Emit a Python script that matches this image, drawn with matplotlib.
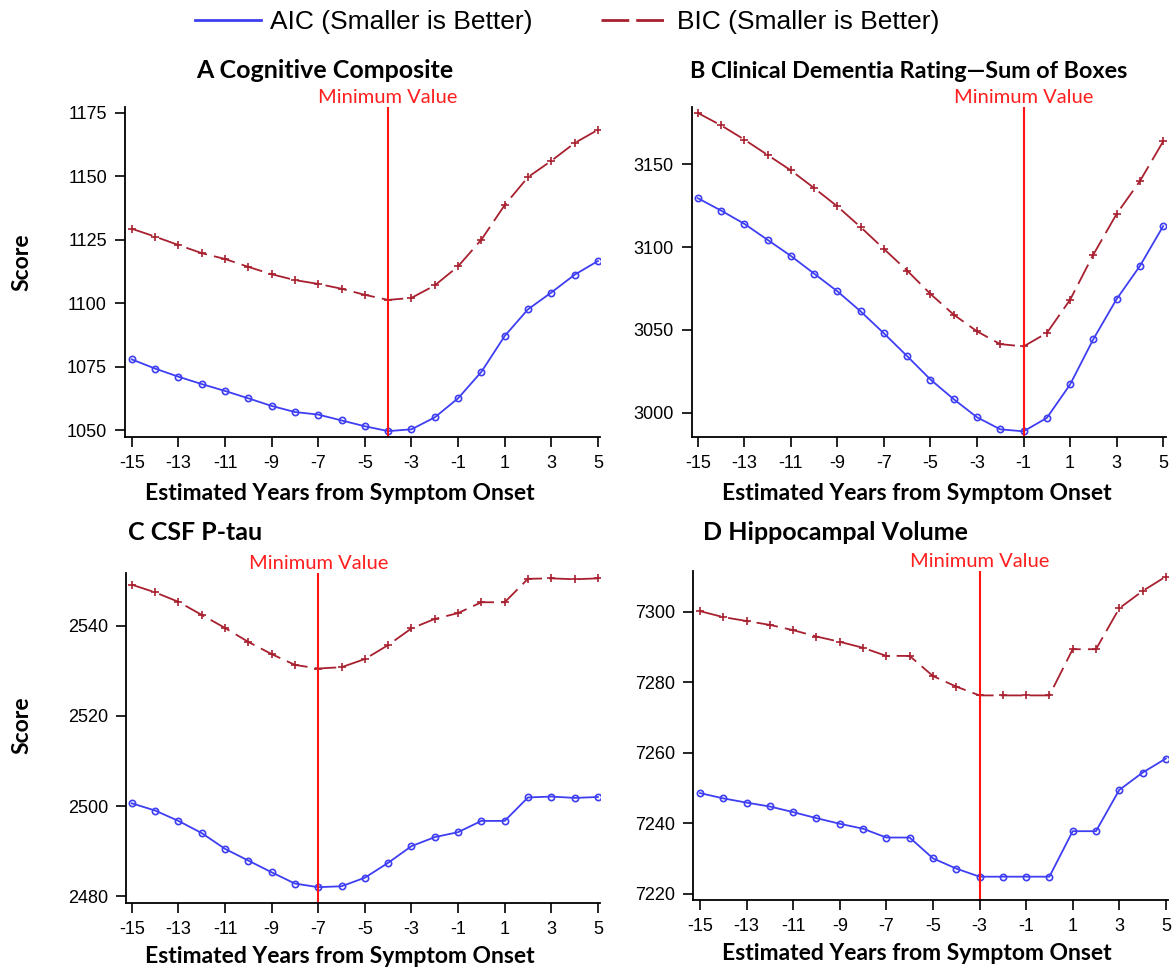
import numpy as np
import matplotlib.pyplot as plt
from matplotlib.lines import Line2D

# years from symptom onset
years = np.arange(-15, 6)

# A Cognitive Composite
aic_a = [1077.9, 1074.3, 1071.1, 1068.2, 1065.5, 1062.6, 1059.6, 1057.2, 1056.2, 1053.9, 1051.6,
         1049.7, 1050.4, 1055.1, 1062.6, 1073.0, 1087.1, 1097.6, 1104.2, 1111.2, 1116.6]
bic_a = [1129.3, 1126.2, 1122.9, 1119.7, 1117.4, 1114.3, 1111.4, 1109.1, 1107.6, 1105.7, 1103.3,
         1101.3, 1102.1, 1107.0, 1114.5, 1125.0, 1138.6, 1149.6, 1156.0, 1163.0, 1168.2]

# B Clinical Dementia Rating - Sum of Boxes
aic_b = [3129.6, 3122.1, 3114.1, 3104.4, 3094.7, 3084.0, 3073.3, 3061.2, 3047.9, 3034.1, 3020.0,
         3008.1, 2997.2, 2989.9, 2988.7, 2996.8, 3017.0, 3044.4, 3068.6, 3088.6, 3112.7]
bic_b = [3181.1, 3173.6, 3165.0, 3155.7, 3146.4, 3135.7, 3124.6, 3112.1, 3098.9, 3085.8, 3071.7,
         3059.2, 3049.1, 3041.4, 3040.0, 3048.1, 3068.2, 3095.5, 3120.1, 3139.9, 3163.9]

# C CSF P-tau
aic_c = [2500.6, 2499.0, 2496.7, 2494.0, 2490.5, 2487.9, 2485.3, 2482.8, 2482.0, 2482.2, 2484.1,
         2487.4, 2491.1, 2493.1, 2494.2, 2496.7, 2496.7, 2501.9, 2502.1, 2501.8, 2502.0]
bic_c = [2549.1, 2547.4, 2545.3, 2542.4, 2539.5, 2536.4, 2533.7, 2531.3, 2530.5, 2530.8, 2532.6,
         2535.7, 2539.4, 2541.5, 2542.8, 2545.2, 2545.2, 2550.4, 2550.5, 2550.3, 2550.5]

# D Hippocampal Volume
aic_d = [7248.6, 7247.1, 7245.9, 7244.8, 7243.2, 7241.5, 7239.9, 7238.5, 7236.0, 7236.0, 7230.1,
         7227.2, 7224.9, 7224.9, 7224.9, 7224.9, 7237.8, 7237.8, 7249.5, 7254.4, 7258.4]
bic_d = [7300.2, 7298.5, 7297.4, 7296.3, 7294.8, 7293.0, 7291.5, 7289.8, 7287.5, 7287.5, 7281.8,
         7278.8, 7276.3, 7276.3, 7276.3, 7276.3, 7289.4, 7289.4, 7301.0, 7305.9, 7310.0]

titles = ['A Cognitive Composite', 'B Clinical Dementia Rating\u2014Sum of Boxes',
          'C CSF P-tau', 'D Hippocampal Volume']
min_years = [-4, -1, -7, -3]
yticks = [np.arange(1050, 1176, 25), np.arange(3000, 3151, 50),
          np.arange(2480, 2541, 20), np.arange(7220, 7301, 20)]

blue = '#3e3ef2'
red = '#a8202f'
sans = 'Liberation Sans'
bold = 'Lato'
plt.rcParams['axes.unicode_minus'] = False

fig = plt.figure(figsize=(11.73, 9.68), dpi=100)

# axes boxes in figure fractions, limits
boxes = [(0.1066, 0.5486, 0.4049, 0.3409), (0.5899, 0.5486, 0.4041, 0.3409),
         (0.1074, 0.0672, 0.4041, 0.3409), (0.5908, 0.0703, 0.4049, 0.3399)]
xlims = [(-15.29, 5.09), (-15.25, 5.12), (-15.25, 5.09), (-15.30, 5.09)]
ylims = [(1047.4, 1177.2), (2985.3, 3184.7), (2478.5, 2551.7), (7218.3, 7311.6)]
xlab_pos = [(0.4526, -0.139), (0.4747, -0.139), (0.4515, -0.130), (0.4716, -0.130)]
aics = [aic_a, aic_b, aic_c, aic_d]
bics = [bic_a, bic_b, bic_c, bic_d]

for i in range(4):
    ax = fig.add_axes(boxes[i])
    ax.plot(years, aics[i], color=blue, lw=1.3, marker='o', ms=4.5, mfc='none', mew=1.2)
    ax.plot(years, bics[i], color=red, lw=1.3, marker='+', ms=6, mew=1.2, dashes=(12, 4))
    ax.axvline(min_years[i], color='#ff1414', lw=1.5)
    ax.annotate('Minimum Value', xy=(min_years[i], 1), xycoords=('data', 'axes fraction'),
                xytext=(0, 1), textcoords='offset points', ha='center', va='bottom',
                color='#ff1f1f', fontsize=14.5, family=bold)
    ax.set_xlim(xlims[i])
    ax.set_ylim(ylims[i])
    ax.set_xticks(np.arange(-15, 6, 2))
    ax.set_yticks(yticks[i])
    ax.spines[['top', 'right']].set_visible(False)
    for s in ['left', 'bottom']:
        ax.spines[s].set_linewidth(1.3)
    ax.tick_params(length=7, width=1.2, labelsize=13, pad=6)
    for lab in ax.get_xticklabels() + ax.get_yticklabels():
        lab.set_family(sans)
    ax.set_xlabel('Estimated Years from Symptom Onset', fontsize=16.5, fontweight='bold',
                  family=bold)
    ax.xaxis.set_label_coords(*xlab_pos[i])

# panel titles
fig.text(325 / 1173, 1 - 71 / 968, titles[0], ha='center', va='center',
         fontsize=18, fontweight='bold', family=bold)
fig.text(909 / 1173, 1 - 71 / 968, titles[1], ha='center', va='center',
         fontsize=16.8, fontweight='bold', family=bold)
fig.text(128 / 1173, 1 - 533 / 968, titles[2], ha='left', va='center',
         fontsize=18, fontweight='bold', family=bold)
fig.text(703 / 1173, 1 - 533 / 968, titles[3], ha='left', va='center',
         fontsize=18, fontweight='bold', family=bold)

# y labels
for yc in [262, 725]:
    fig.text(22 / 1173, 1 - yc / 968, 'Score', rotation=90, ha='center', va='center',
             fontsize=16.5, fontweight='bold', family=bold)

# legend across the top
handles = [Line2D([], [], color=blue, lw=2),
           Line2D([], [], color=red, lw=2, dashes=(10, 2.5))]
fig.legend(handles, ['AIC (Smaller is Better)', 'BIC (Smaller is Better)'],
           loc='center', bbox_to_anchor=(567 / 1173, 1 - 22 / 968), ncol=2, frameon=False,
           prop={'family': sans, 'size': 19}, handlelength=2.5, handletextpad=0.35,
           columnspacing=2.6)

fig.savefig('out.png', dpi=100)
